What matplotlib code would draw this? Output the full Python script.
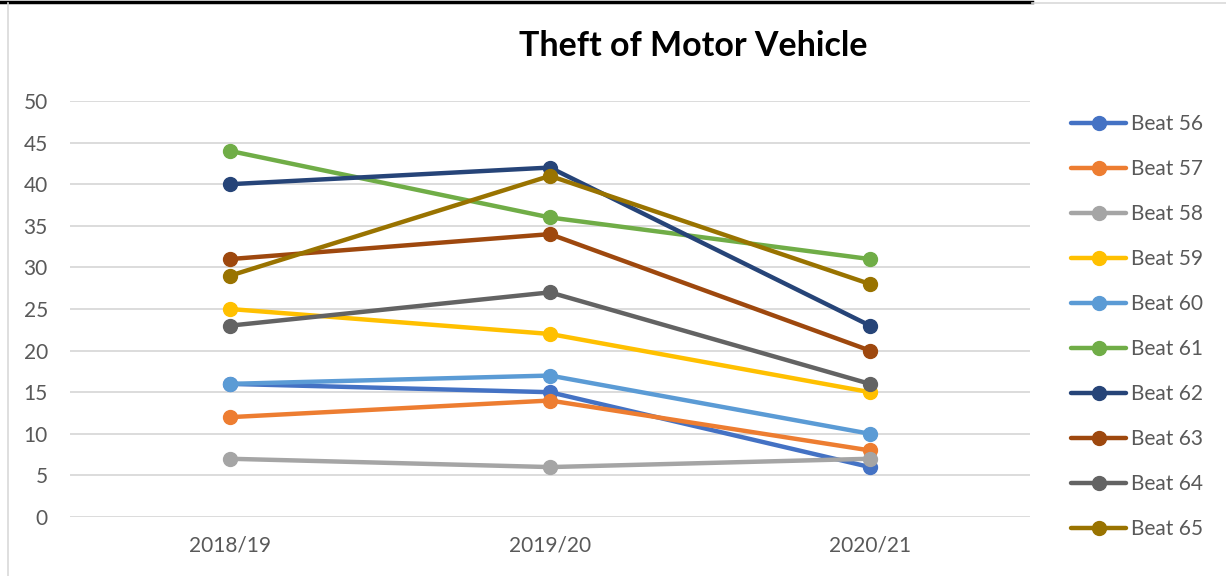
import numpy as np
import matplotlib
matplotlib.use("Agg")
import matplotlib.pyplot as plt
from matplotlib.lines import Line2D

plt.rcParams['font.family'] = ['Lato', 'DejaVu Sans']

years = ['2018/19', '2019/20', '2020/21']
beats = ['Beat 56', 'Beat 57', 'Beat 58', 'Beat 59', 'Beat 60',
         'Beat 61', 'Beat 62', 'Beat 63', 'Beat 64', 'Beat 65']
beat56 = [16, 15, 6]
beat57 = [12, 14, 8]
beat58 = [7, 6, 7]
beat59 = [25, 22, 15]
beat60 = [16, 17, 10]
beat61 = [44, 36, 31]
beat62 = [40, 42, 23]
beat63 = [31, 34, 20]
beat64 = [23, 27, 16]
beat65 = [29, 41, 28]
series = [beat56, beat57, beat58, beat59, beat60,
          beat61, beat62, beat63, beat64, beat65]
colors = ['#4472c4', '#ed7d31', '#a5a5a5', '#ffc000', '#5b9bd5',
          '#70ad47', '#264478', '#9e480e', '#636363', '#997300']

fig = plt.figure(figsize=(12.26, 5.76), dpi=100)
ax = fig.add_axes([70/1226, 1-517/576, 960/1226, 416/576])

x = np.arange(len(years))
for vals, c, name in zip(series, colors, beats):
    ax.plot(x, vals, color=c, lw=3.2, marker='o', markersize=10,
            solid_capstyle='round', label=name)

ax.set_xlim(-0.5, 2.5)
ax.set_ylim(0, 50)
ax.set_yticks(range(0, 51, 5))
ax.set_xticks(x)
ax.set_xticklabels(years)
ax.grid(axis='y', color='#d9d9d9', lw=1.3)
ax.set_axisbelow(True)
for s in ax.spines.values():
    s.set_visible(False)
ax.tick_params(length=0, labelsize=15, colors='#595959')
ax.tick_params(axis='y', pad=16)
ax.tick_params(axis='x', pad=13)

fig.text(693/1226, 1-46/576, 'Theft of Motor Vehicle', ha='center', va='center',
         fontsize=24.5, fontweight='bold', color='black')

leg = ax.legend(loc='upper left', bbox_to_anchor=(1071/1226, 1-114/576),
                bbox_transform=fig.transFigure, frameon=False, fontsize=15,
                labelspacing=1.2, handlelength=2.65, handletextpad=0.25,
                borderaxespad=0, borderpad=0)
for t in leg.get_texts():
    t.set_color('#595959')

# chart frame
fig.add_artist(Line2D([0, 1032/1226], [1-1.5/576, 1-1.5/576], transform=fig.transFigure,
                      color='black', lw=2.5))
fig.add_artist(Line2D([1032/1226, 1], [1-2.5/576, 1-2.5/576], transform=fig.transFigure,
                      color='#d9d9d9', lw=1.2))
fig.add_artist(Line2D([7.5/1226, 7.5/1226], [0, 1-3/576], transform=fig.transFigure,
                      color='#d9d9d9', lw=1.2))

fig.savefig('out.png', dpi=100)
